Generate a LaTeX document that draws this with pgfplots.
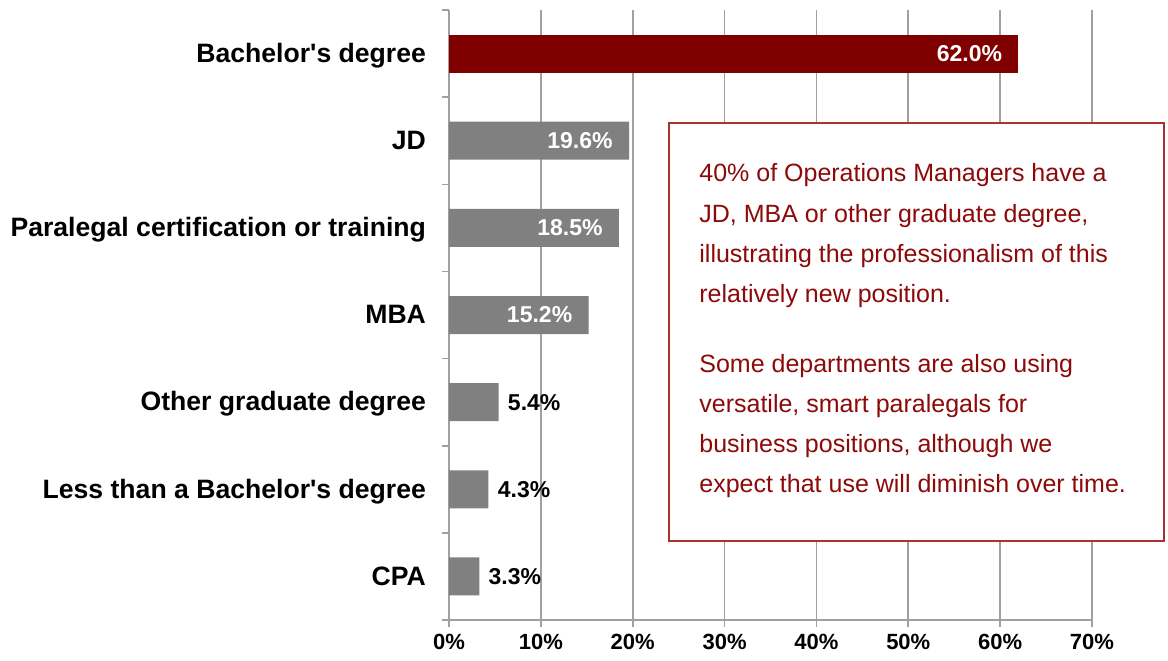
\documentclass[border=0pt]{standalone}
\usepackage{fontspec}
\setmainfont{Liberation Sans}
\usepackage{pgfplots}
\pgfplotsset{compat=1.18}
\definecolor{barred}{RGB}{128,0,0}
\definecolor{bargray}{RGB}{128,128,128}
\definecolor{gridgray}{RGB}{160,160,160}
\definecolor{txtred}{RGB}{140,10,10}
\definecolor{boxred}{RGB}{170,50,50}
\begin{document}
\begin{tikzpicture}
\useasboundingbox (-224.5pt,-20pt) rectangle (359.5pt,310pt);
\begin{axis}[
  at={(0,0)}, anchor=south west,
  scale only axis, width=321.5pt, height=305pt,
  xmin=0, xmax=70, ymin=-0.5, ymax=6.5,
  xbar, bar width=19pt, bar shift=0pt,
  axis lines*=left,
  axis line style={gridgray, line width=0.8pt},
  /pgf/number format/assume math mode=true,
  xtick={0,10,...,70},
  xticklabel={\pgfmathprintnumber{\tick}\%},
  xticklabel style={font=\bfseries\fontsize{11}{13}\selectfont},
  xmajorgrids, major grid style={gridgray, line width=0.8pt},
  tick align=outside,
  tick style={gridgray, line width=0.8pt},
  major tick length=3.5pt,
  ytick={-0.5,0.5,...,5.5},
  yticklabels={CPA, Less than a Bachelor\textquotesingle s degree, Other graduate degree, MBA, Paralegal certification or training, JD, Bachelor\textquotesingle s degree},
  yticklabel style={font=\bfseries\fontsize{13.3}{16}\selectfont, anchor=base east, yshift=17.4pt, xshift=-4.5pt},
  extra y ticks={6.5}, extra y tick labels={},
  point meta=x,
  nodes near coords={\pgfmathprintnumber[fixed,zerofill,precision=1]{\pgfplotspointmeta}\%},
]
\addplot[fill=barred, draw=none,
  every node near coord/.style={anchor=east, inner sep=0pt, xshift=-8pt, text=white, font=\bfseries\fontsize{11.5}{13}\selectfont}]
  coordinates {(62.0,6)};
\addplot[fill=bargray, draw=none,
  every node near coord/.style={anchor=east, inner sep=0pt, xshift=-8pt, text=white, font=\bfseries\fontsize{11.5}{13}\selectfont}]
  coordinates {(19.6,5) (18.5,4) (15.2,3)};
\addplot[fill=bargray, draw=none,
  every node near coord/.style={anchor=west, inner sep=0pt, xshift=4.5pt, text=black, font=\bfseries\fontsize{11.5}{13}\selectfont}]
  coordinates {(5.4,2) (4.3,1) (3.3,0)};
\end{axis}
\draw[boxred, line width=0.8pt, fill=white] (110pt,39.5pt) rectangle (357.5pt,248.5pt);
\begin{scope}[every node/.style={anchor=base west, inner sep=0pt, text=txtred, font=\fontsize{12.5}{15}\selectfont}]
\node at (125pt,219pt) {40\% of Operations Managers have a};
\node at (125pt,199pt) {JD, MBA or other graduate degree,};
\node at (125pt,179pt) {illustrating the professionalism of this};
\node at (125pt,159pt) {relatively new position.};
\node at (125pt,124pt) {Some departments are also using};
\node at (125pt,104pt) {versatile, smart paralegals for};
\node at (125pt,84pt) {business positions, although we};
\node at (125pt,64pt) {expect that use will diminish over time.};
\end{scope}
\end{tikzpicture}
\end{document}
